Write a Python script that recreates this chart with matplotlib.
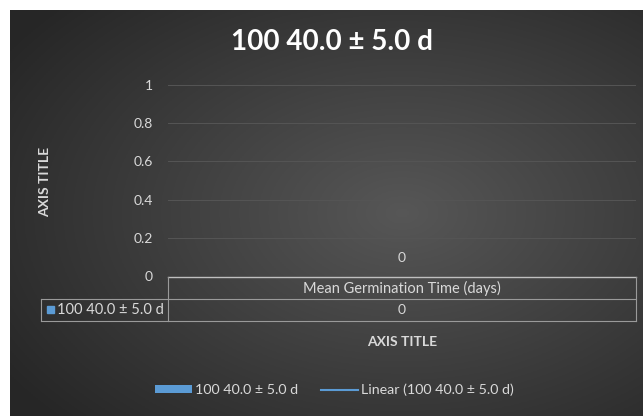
import numpy as np
import matplotlib
matplotlib.use("Agg")
import matplotlib.pyplot as plt
from matplotlib.patches import Patch, Rectangle
from matplotlib.lines import Line2D

# ---- data ----
title = "100 40.0 ± 5.0 d"
categories = ["Mean Germination Time (days)"]
series_name = "100 40.0 ± 5.0 d"
values = [0]
yticks = [0, 0.2, 0.4, 0.6, 0.8, 1]
ytick_labels = ["0", "0.2", "0.4", "0.6", "0.8", "1"]
axis_title = "AXIS TITLE"

W, H = 643, 416
plt.rcParams['font.family'] = ['Lato', 'DejaVu Sans']
fig = plt.figure(figsize=(W / 100, H / 100), dpi=100)
fig.patch.set_facecolor('white')

def fx(px):
    return px / W

def fy(py):
    return 1 - py / H

# background radial gradient
bg = fig.add_axes([fx(10), 0, 1 - fx(10), fy(10)])
bg.set_axis_off()
gx, gy = np.meshgrid(np.linspace(0, 1, 300), np.linspace(0, 1, 200))
d = np.sqrt(((gx - 0.62) / 0.75) ** 2 + ((gy - 0.5) / 0.75) ** 2)
d = np.clip(d, 0, 1)
lum = 0.34 - 0.19 * d
img = np.dstack([lum, lum, lum])
bg.imshow(img, extent=[0, 1, 0, 1], aspect='auto', origin='lower')
bg.set_xlim(0, 1)
bg.set_ylim(0, 1)

txt = '#d9d9d9'
fs = 10

# main axes
ax = fig.add_axes([fx(168), fy(276), fx(636) - fx(168), fy(85) - fy(276)])
ax.patch.set_alpha(0)
x = np.arange(len(categories))
bars = ax.bar(x, values, width=0.5, color='#5b9bd5')
for xi, v in zip(x, values):
    ax.annotate(f"{v:g}", (xi, v), xytext=(0, 13), textcoords='offset points',
                ha='center', va='center', color=txt, fontsize=fs)
ax.set_xlim(-0.5, len(categories) - 0.5)
ax.set_ylim(0, 1)
ax.set_yticks(yticks)
ax.set_yticklabels(ytick_labels)
ax.tick_params(axis='y', length=0, pad=11, colors=txt, labelsize=fs)
ax.set_xticks([])
for s in ['top', 'right', 'left', 'bottom']:
    ax.spines[s].set_visible(False)
ax.grid(axis='y', color='#555555', linewidth=0.7)
ax.set_axisbelow(True)

# y axis title
fig.text(fx(45), fy(182), axis_title, rotation=90, ha='center', va='center',
         color=txt, fontsize=10, fontweight='bold')

# title
fig.text(fx(332), fy(42), title, ha='center', va='center', color='white',
         fontsize=20, fontweight='bold')

# data table
lc = '#9a9a9a'
tab = fig.add_axes([0, 0, 1, 1])
tab.set_axis_off()
tab.set_xlim(0, W)
tab.set_ylim(H, 0)
tab.plot([168, 636], [277, 277], color='#bfbfbf', lw=1)
tab.plot([168, 636], [299, 299], color=lc, lw=0.8)
tab.plot([41, 636], [321, 321], color=lc, lw=0.8)
tab.plot([41, 168], [299, 299], color=lc, lw=0.8)
tab.plot([41, 41], [299, 321], color=lc, lw=0.8)
tab.plot([168, 168], [277, 321], color=lc, lw=0.8)
tab.plot([636, 636], [277, 321], color=lc, lw=0.8)
for i, cat in enumerate(categories):
    cx = 168 + (636 - 168) * (i + 0.5) / len(categories)
    tab.text(cx, 288, cat, ha='center', va='center', color=txt, fontsize=10.5)
    tab.text(cx, 310, f"{values[i]:g}", ha='center', va='center', color=txt, fontsize=fs)
tab.add_patch(Rectangle((47, 306), 7, 7, color='#5b9bd5'))
tab.text(57, 310, series_name, ha='left', va='center', color=txt, fontsize=10.5)

# x axis title
fig.text(fx(402), fy(342), axis_title, ha='center', va='center',
         color=txt, fontsize=10, fontweight='bold')

# legend
handles = [Patch(facecolor='#5b9bd5', edgecolor='none'),
           Line2D([0], [0], color='#5b9bd5', lw=1.5)]
labels = [series_name, f"Linear ({series_name})"]
leg = fig.legend(handles, labels, loc='center', bbox_to_anchor=(fx(334), fy(390)),
                 ncol=2, frameon=False, fontsize=10.3, labelcolor=txt,
                 handlelength=2.6, handleheight=0.45, handletextpad=0.2,
                 columnspacing=1.6)

fig.savefig('out.png', dpi=100, facecolor='white')
